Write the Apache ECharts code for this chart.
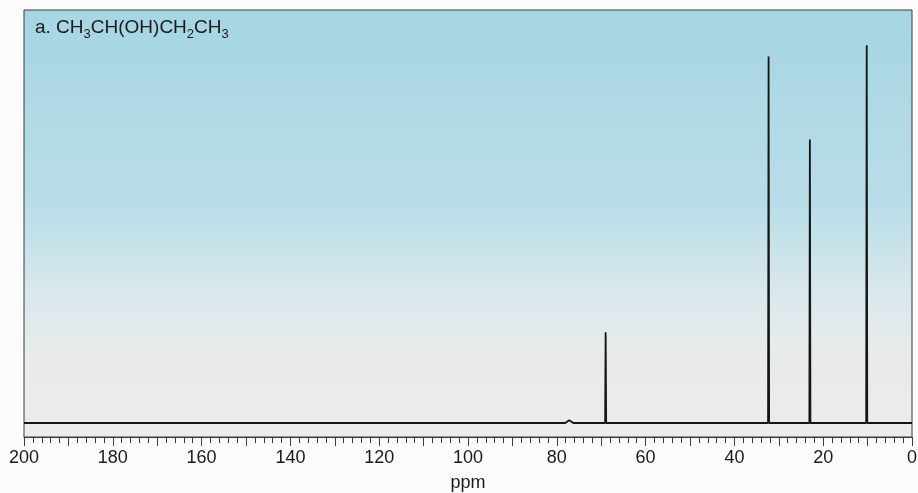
<!DOCTYPE html>
<html>
<head>
<meta charset="utf-8">
<script src="https://cdn.jsdelivr.net/npm/echarts@6/dist/echarts.min.js"></script>
<style>
  html, body { margin: 0; padding: 0; background: #fbfbfb; }
  #chart { width: 918px; height: 493px; }
</style>
</head>
<body>
<div id="chart"></div>
<script>
// peak positions (ppm) and relative heights
var peakShifts = [77.2, 69.0, 32.3, 23.0, 10.2];
var peakHeights = [0.7, 24, 97, 75, 100];
var axisTicks = [200, 180, 160, 140, 120, 100, 80, 60, 40, 20, 0];

// build the line: flat baseline with sharp peaks
function buildSpectrum() {
    var pts = [[200, 0]];
    peakShifts.forEach(function (p, i) {
        var half = peakHeights[i] < 5 ? 0.9 : 0.12;
        pts.push([p + half, 0]);
        pts.push([p, peakHeights[i]]);
        pts.push([p - half, 0]);
    });
    pts.push([0, 0]);
    return pts;
}

var chart = echarts.init(document.getElementById('chart'));
var textFont = '"Liberation Sans", Arial, Helvetica, sans-serif';

var option = {
    backgroundColor: '#fbfbfb',
    animation: false,
    title: {
        left: 35,
        top: 18,
        padding: 0,
        text: '{n|a. CH}{s|3}{n|CH(OH)CH}{s|2}{n|CH}{s|3}',
        textStyle: {
            fontWeight: 'normal',
            rich: {
                n: { fontSize: 19, fontWeight: 'normal', fontFamily: textFont, color: '#1a1a1a', lineHeight: 23, verticalAlign: 'top' },
                s: { fontSize: 13, fontWeight: 'normal', fontFamily: textFont, color: '#1a1a1a', lineHeight: 13, verticalAlign: 'bottom' }
            }
        }
    },
    grid: {
        left: 24,
        right: 6,
        top: 10,
        bottom: 56,
        outerBoundsMode: 'none',
        containLabel: false,
        show: true,
        borderColor: '#3a3a3a',
        borderWidth: 1,
        backgroundColor: {
            type: 'linear', x: 0, y: 0, x2: 0, y2: 1,
            colorStops: [
                { offset: 0, color: '#a6d5e3' },
                { offset: 0.45, color: '#b8dde8' },
                { offset: 0.66, color: '#d9e8ec' },
                { offset: 0.8, color: '#e8ebeb' },
                { offset: 1, color: '#ebebeb' }
            ]
        }
    },
    xAxis: {
        type: 'value',
        inverse: true,
        min: 0,
        max: 200,
        interval: 10,
        name: 'ppm',
        nameLocation: 'middle',
        nameGap: 37,
        nameTextStyle: { fontSize: 18, fontFamily: textFont, color: '#1a1a1a' },
        axisLine: { onZero: false, lineStyle: { color: '#3a3a3a', width: 1 } },
        axisTick: { length: 9, lineStyle: { color: '#3a3a3a' } },
        minorTick: { show: true, splitNumber: 5, length: 6, lineStyle: { color: '#3a3a3a' } },
        splitLine: { show: false },
        axisLabel: {
            margin: 12,
            fontSize: 18,
            fontFamily: textFont,
            color: '#1a1a1a',
            formatter: function (v) {
                return axisTicks.indexOf(v) >= 0 ? String(v) : '';
            }
        }
    },
    yAxis: {
        type: 'value',
        min: -3.7,
        max: 109.3,
        show: false
    },
    series: [{
        type: 'line',
        data: buildSpectrum(),
        showSymbol: false,
        lineStyle: { color: '#151515', width: 1.8 }
    }]
};

chart.setOption(option);
</script>
</body>
</html>
